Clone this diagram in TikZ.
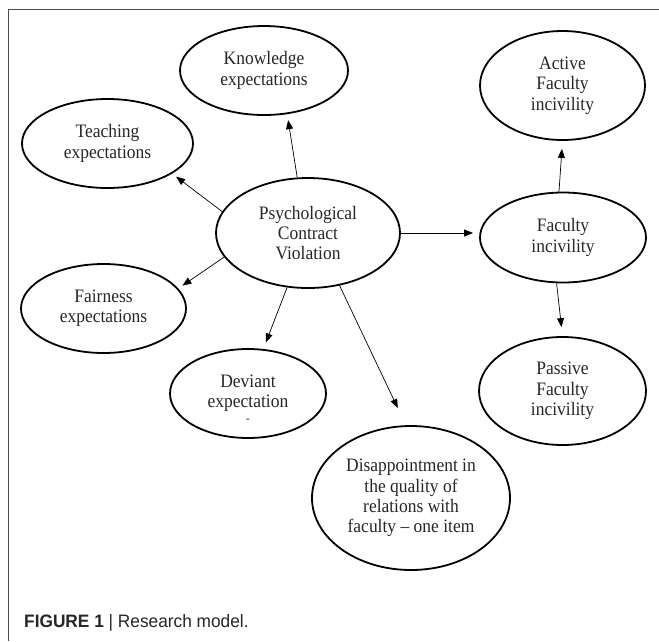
\documentclass[tikz,border=0pt]{standalone}
\usepackage{fontspec}
\setmainfont{Liberation Serif}[FakeStretch=0.92]
\newfontfamily\capfont{Liberation Sans}[FakeStretch=0.96]
\usetikzlibrary{shapes.geometric,arrows.meta}
\begin{document}
\begin{tikzpicture}[x=1pt,y=-1pt,
  oval/.style={draw, line width=1.8pt, ellipse, inner sep=0pt, align=center,
    font=\fontsize{19}{20.3}\selectfont, text=black!85},
  arr/.style={line width=0.7pt, -{Triangle[length=9pt,width=7pt]}}]
\useasboundingbox (0,0) rectangle (659,641);
\draw[draw=black!70, line width=1pt] (8,641) -- (8,9) -- (659,9);
\node[oval, minimum width=168pt, minimum height=89pt] (know) at (264,70.5) {Knowledge\\expectations};
\node[oval, minimum width=171pt, minimum height=89pt] (teach) at (107.5,143.5) {Teaching\\expectations};
\node[oval, minimum width=165pt, minimum height=109pt] (active) at (562.5,85.5) {Active\\Faculty\\incivility};
\node[oval, minimum width=184pt, minimum height=110pt] (psych) at (308,233) {Psychological\\Contract\\Violation};
\node[oval, minimum width=166pt, minimum height=90pt] (fac) at (563,237.5) {Faculty\\incivility};
\node[oval, minimum width=165pt, minimum height=89pt] (fair) at (103.5,308.5) {Fairness\\expectations};
\node[oval, minimum width=156pt, minimum height=89pt] (dev) at (248,393.5) {Deviant\\\smash{\begin{tabular}[t]{@{}c@{}}expectation\\[-5pt]{\fontsize{12}{12}\selectfont -}\end{tabular}}\rule[-5pt]{0pt}{5pt}};
\node[oval, minimum width=198pt, minimum height=144pt] (dis) at (411,498) {Disappointment in\\the quality of\\relations with\\faculty -- one item};
\node[oval, minimum width=167pt, minimum height=108pt] (pass) at (562.5,391) {Passive\\Faculty\\incivility};
\draw[arr, shorten >=6pt] (psych.101) -- (know.298);
\draw[arr, shorten >=5pt] (psych.166) -- (teach.335.6);
\draw[arr, shorten >=5pt] (psych.196) -- (fair.15.6);
\draw[arr, shorten >=6pt] (psych.east) -- (psych.east -| fac.west);
\draw[arr, shorten >=8pt] (fac.95) -- (active.south);
\draw[arr, shorten >=9pt] (fac.262.5) -- (pass.north);
\draw[arr, shorten >=7pt] (psych.249) -- (dev.71.9);
\draw[arr, shorten >=19pt] (psych.301) -- (dis.94.2);
\node[anchor=base west, inner sep=0pt, font=\capfont\fontsize{18}{20}\selectfont, text=black!85] (cap) at (24,627) {\textbf{FIGURE 1} | Research model.};
\end{tikzpicture}
\end{document}
